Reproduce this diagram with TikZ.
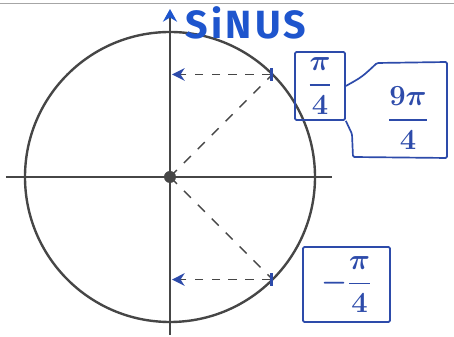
\documentclass[tikz,border=0pt]{standalone}
\usepackage{amsmath}
\usepackage{fontspec}
\usepackage{tikz}
\usetikzlibrary{arrows.meta,calc,positioning}
\newfontfamily\handfont[LetterSpace=8]{Fira Sans}
\definecolor{inkblue}{RGB}{45,75,170}
\definecolor{penblue}{RGB}{30,85,205}
\definecolor{pencil}{RGB}{70,70,70}

\tikzset{
  fracbox/.style={draw=inkblue, line width=1.2pt, rounded corners=1pt, text=inkblue, font=\huge, inner sep=0pt},
  fractext/.style={text=inkblue, font=\huge, inner sep=0pt},
  proj/.style={dash pattern=on 6pt off 6pt, pencil, line width=1.1pt,
    {Bar[color=inkblue, width=9pt, line width=1.8pt]}-{Stealth[color=inkblue, length=9pt, width=9pt]}},
  radius line/.style={dash pattern=on 7pt off 7pt, pencil, line width=1pt}
}

\begin{document}
\begin{tikzpicture}[x=0.25mm, y=0.25mm, >=Stealth]
    \useasboundingbox (-170,-160) rectangle (284,177);
    % edge of the sheet
    \draw[gray!70, line width=0.6pt] (-170,174) -- (284,174);

    % Circle and axes
    \coordinate (c) at (0,0);
    \coordinate (xl) at (-164,0);
    \coordinate (xr) at (162,0);
    \coordinate (yb) at (0,-158);
    \coordinate (yt) at (0,168);
    \draw[pencil, line width=1.7pt] (c) circle (145);
    \draw[pencil, line width=1.2pt] (xl) -- (xr);
    \draw[pencil, line width=1.4pt, -{Stealth[color=penblue, length=9pt, width=10pt]}] (yb) -- (yt);
    \node[text=penblue, font=\handfont\bfseries\fontsize{28}{28}\selectfont, anchor=center] (sinus) at (76,154) {SiNUS};

    % Points at +/- pi/4
    \coordinate (p1) at (45:145);
    \coordinate (p2) at (-45:145);
    \draw[radius line] (c) -- (p1);
    \draw[radius line] (c) -- (p2);
    \draw[proj] (p1) -- ($(c |- p1)+(2,0)$);
    \draw[proj] (p2) -- ($(c |- p2)+(2,0)$);
    \fill[pencil] (c) circle (6);

    % Labels
    \node[fracbox, minimum width=12.5mm, minimum height=17mm] (frac1) at (150,91) {$\boldsymbol{\dfrac{\pi}{4}}$};
    \node[fracbox, minimum width=21.75mm, minimum height=18.75mm] (frac2) at (176.5,-107.5) {$\boldsymbol{-\dfrac{\pi}{4}}$};
    \node[fractext] (frac9) at (238,59) {$\boldsymbol{\dfrac{9\pi}{4}}$};
    \draw[inkblue, line width=1.2pt, rounded corners=1pt] (frac1.east) .. controls (192,100) .. (207,114)
        -- (277,115) -- (277,19) -- (183,20) -- (182,43) -- (frac1.south east);
\end{tikzpicture}
\end{document}
